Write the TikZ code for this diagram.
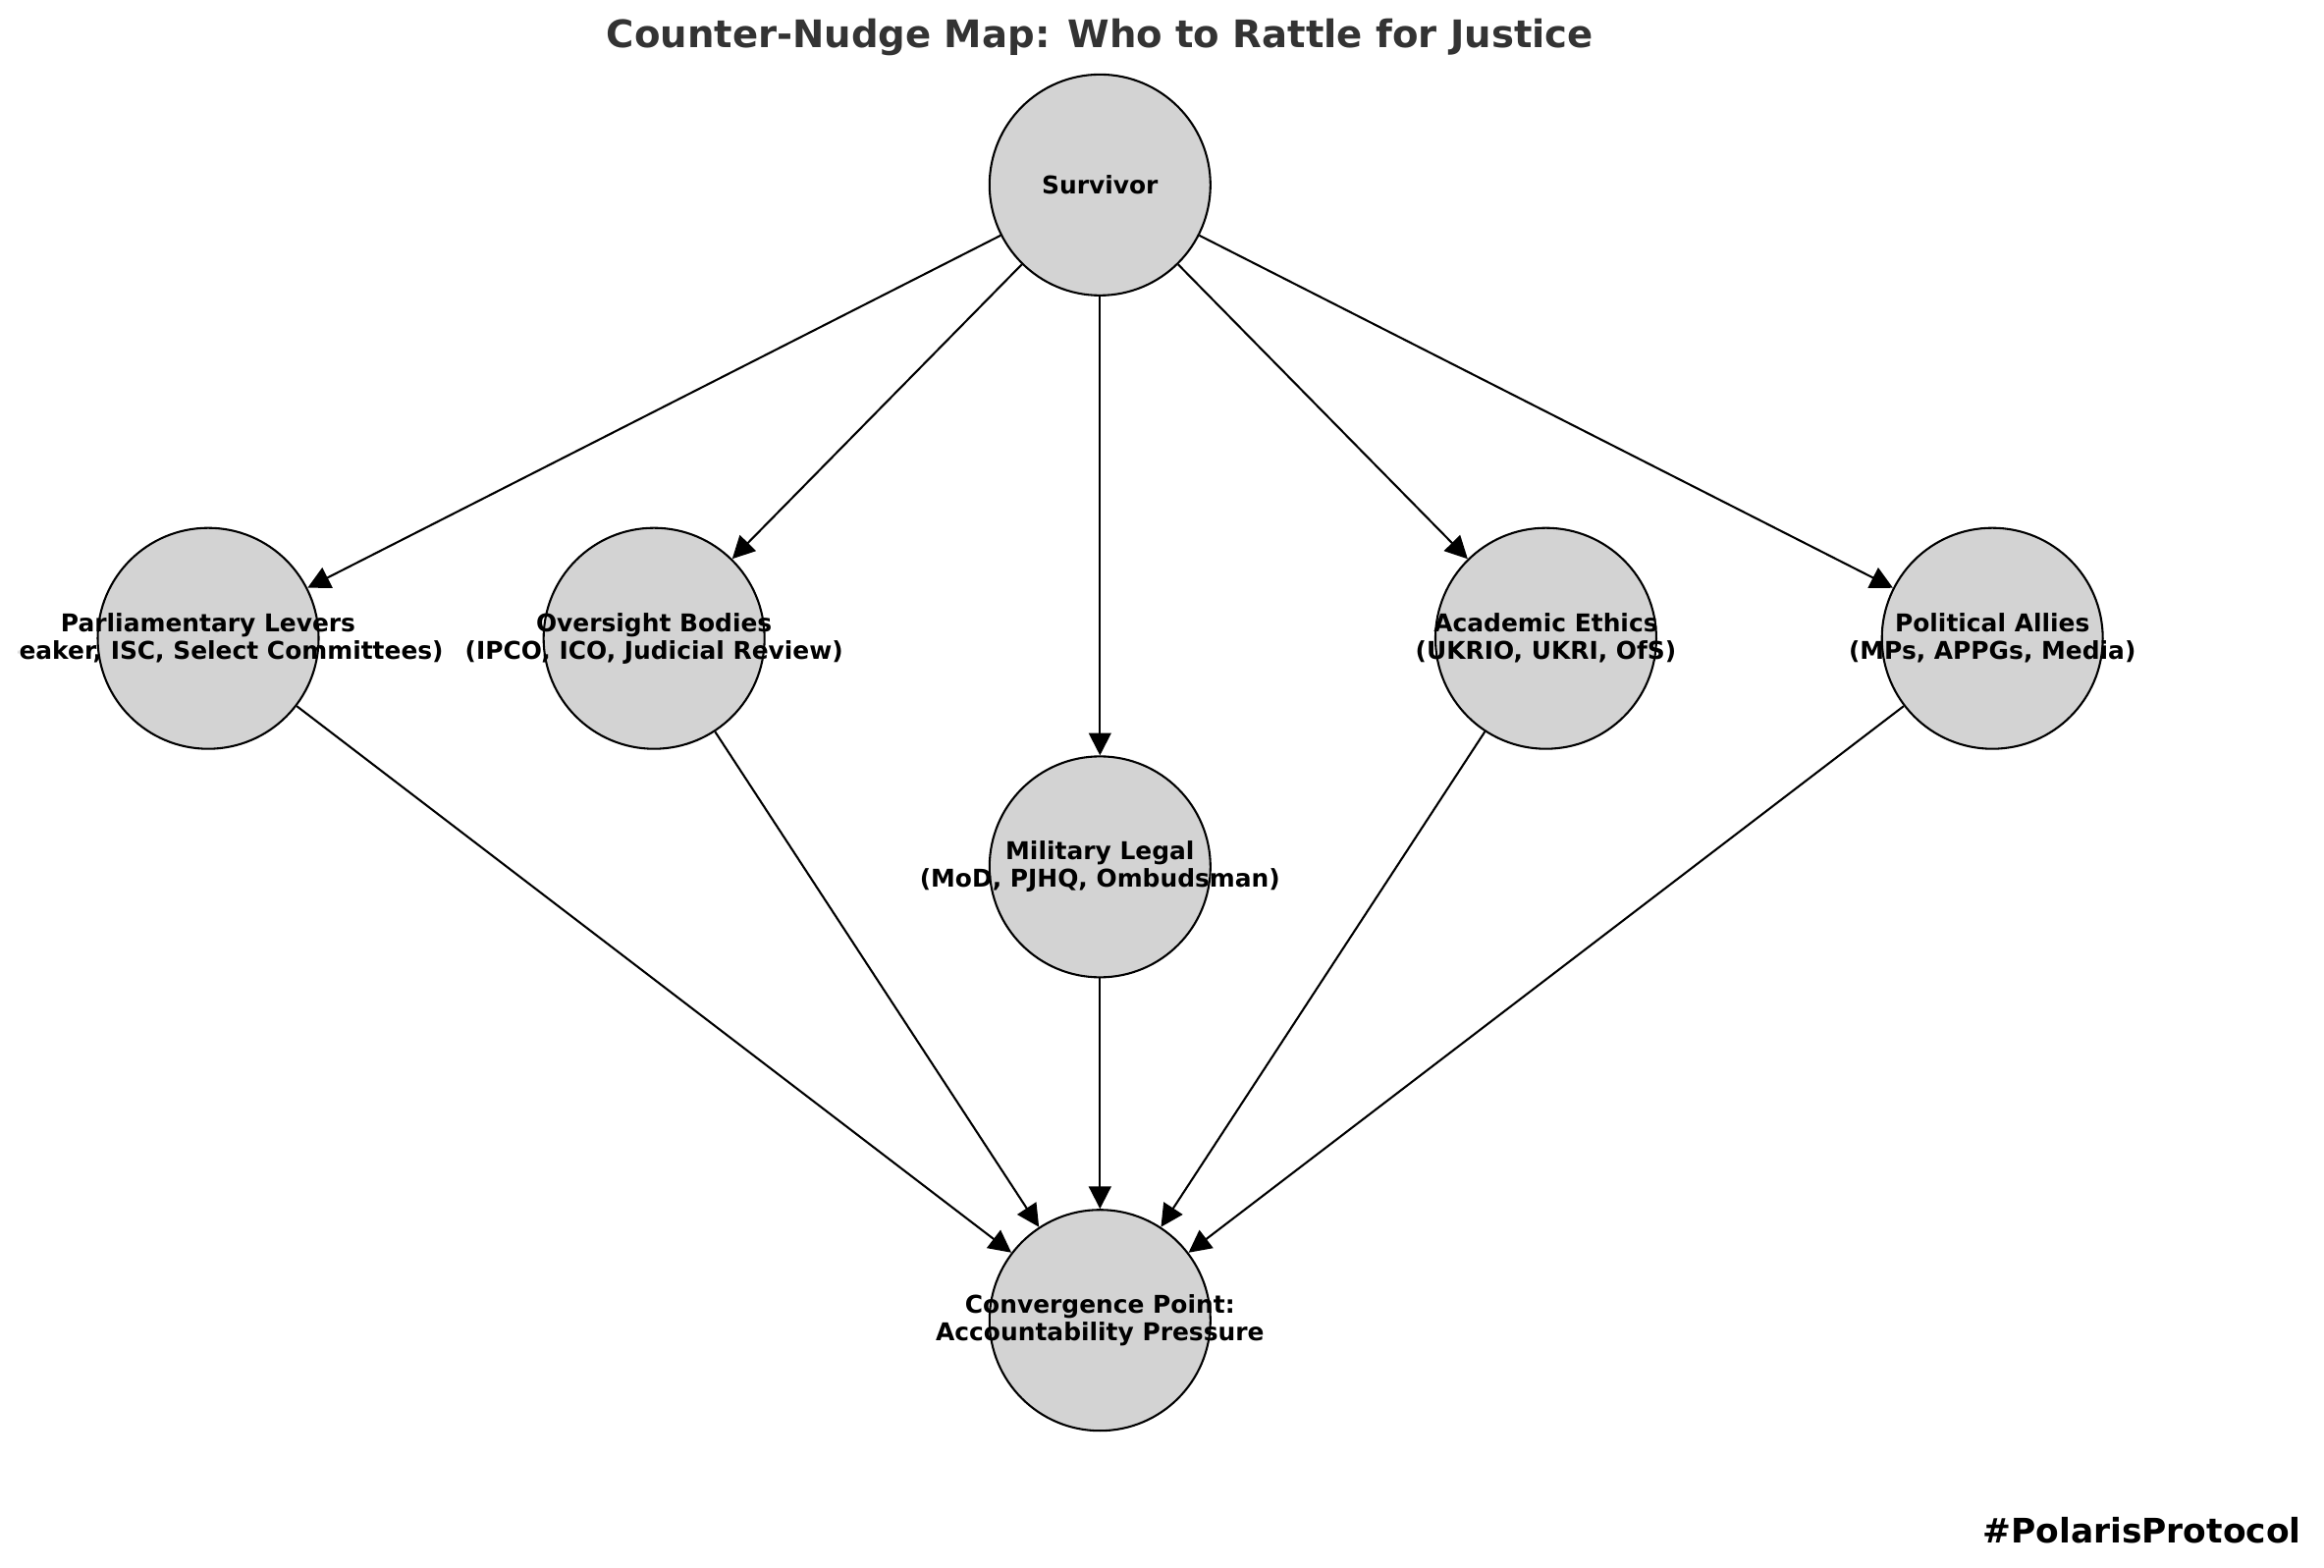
\documentclass[tikz,border=0pt]{standalone}
\usepackage{fontspec}
\setmainfont{DejaVu Sans}
\usepackage{tikz}
\usetikzlibrary{arrows.meta}
\usepackage{xcolor}
\definecolor{nodegray}{HTML}{D3D3D3}
\definecolor{titlegray}{HTML}{333333}
\tikzstyle{actor} = [circle, minimum size=3.81cm, inner sep=0pt, draw=black, line width=1pt, fill=nodegray]
\tikzstyle{tag} = [align=center, inner sep=0pt, font=\fontsize{12}{13.5}\selectfont\bfseries]
\tikzstyle{arrow} = [line width=1pt, -{Triangle[length=11pt,width=11pt]}]

\begin{document}
\begin{tikzpicture}
	\useasboundingbox (0,0) rectangle (40.08,27.03);
	%Title
	\node[text=titlegray, font=\fontsize{18.6}{22}\selectfont\bfseries] (title) at (18.97,26.38) {Counter-Nudge Map: Who to Rattle for Justice};
	\begin{scope}
	\clip (0.31,0) rectangle (40.08,27.03);
	%Source
	\node[actor, label={[tag]center:Survivor}] (survivor) at (18.97,23.84) {};
	%Pressure routes
	\node[actor, label={[tag]center:Parliamentary Levers\\(Speaker, ISC, Select Committees)}] (parliament) at (3.59,16.02) {};
	\node[actor, label={[tag]center:Oversight Bodies\\(IPCO, ICO, Judicial Review)}] (oversight) at (11.28,16.02) {};
	\node[actor, label={[tag]center:Military Legal\\(MoD, PJHQ, Ombudsman)}] (military) at (18.97,12.08) {};
	\node[actor, label={[tag]center:Academic Ethics\\(UKRIO, UKRI, OfS)}] (academic) at (26.66,16.02) {};
	\node[actor, label={[tag]center:Political Allies\\(MPs, APPGs, Media)}] (allies) at (34.36,16.02) {};
	%Target
	\node[actor, label={[tag]center:Convergence Point:\\Accountability Pressure}] (convergence) at (18.97,4.26) {};
	%Edges
	\foreach \n in {parliament, oversight, military, academic, allies} {
		\draw[arrow] (survivor) -- (\n);
		\draw[arrow] (\n) -- (convergence);
	}
	\end{scope}
	%Hashtag
	\node[anchor=east, inner sep=0pt, font=\fontsize{16.6}{19}\selectfont\bfseries] (hashtag) at (39.69,0.64) {\#PolarisProtocol};
\end{tikzpicture}
\end{document}
